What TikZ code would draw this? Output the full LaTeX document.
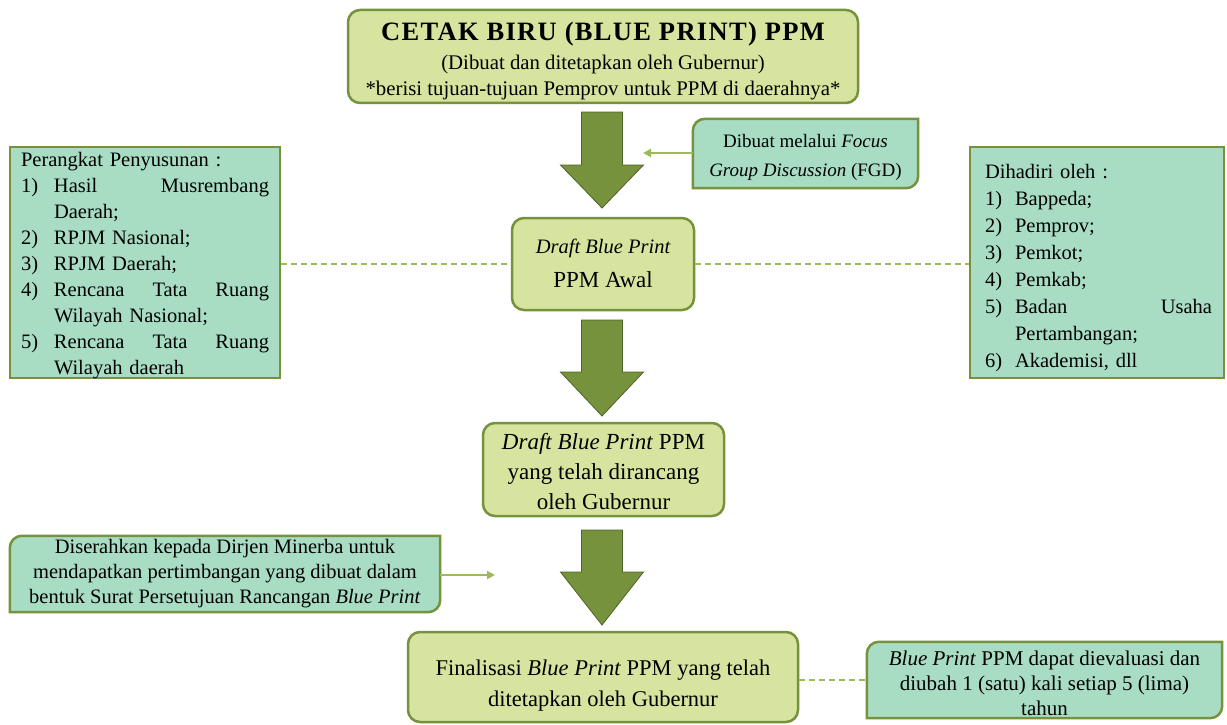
\documentclass[tikz,border=0pt]{standalone}
\usepackage{fontspec}
\setmainfont{Liberation Serif}
\usetikzlibrary{arrows.meta,calc}
\definecolor{olivebd}{RGB}{118,146,60}
\definecolor{olivedk}{RGB}{79,98,40}
\definecolor{olivelt}{RGB}{155,187,89}
\definecolor{yfill}{RGB}{215,228,160}
\definecolor{mintfill}{RGB}{168,221,196}
\newcommand{\fsz}[2]{\fontsize{#1}{#2}\selectfont}
\newcommand{\bigdown}[4]{%
  \filldraw[bigarr] (#1-20.5,#2) -- (#1+20.5,#2) -- (#1+20.5,#3) -- (#1+41.5,#3) -- (#1,#4) -- (#1-41.5,#3) -- (#1-20.5,#3) -- cycle;}
\begin{document}
\begin{tikzpicture}[x=1pt,y=-1pt,
  mainbox/.style={draw=olivebd, line width=2.5pt, fill=yfill, rounded corners=12pt, inner sep=0pt},
  mintsq/.style={draw=olivebd, line width=2.5pt, fill=mintfill, inner sep=0pt},
  diagbox/.style={draw=olivebd, line width=2.5pt, fill=mintfill},
  plainnode/.style={inner sep=0pt, align=center},
  listtext/.style={inner sep=0pt, align=left},
  bigarr/.style={fill=olivebd, draw=olivedk, line width=0.8pt},
  dashline/.style={draw=olivelt, line width=2.5pt, dash pattern=on 6pt off 4pt},
  thinarr/.style={draw=olivelt, line width=2pt, -{Triangle[length=8pt,width=8pt]}}
]
\useasboundingbox (0,0) rectangle (1227,725);
\fill[white] (0,0) rectangle (1227,725);

% main boxes (shapes)
\node[mainbox, minimum width=510, minimum height=93] (top) at (603,56.5) {};
\node[mainbox, minimum width=182, minimum height=92] (awal) at (603,264) {};
\node[mainbox, minimum width=241, minimum height=93] (rancang) at (603.5,469.5) {};
\node[mainbox, minimum width=390, minimum height=90] (final) at (603,677) {};

% main box texts
\node[plainnode, font=\fsz{20.8}{25.5}] (toptext) at ($(top)+(0,4.5)$)
  {{\fsz{26.5}{30}\bfseries\addfontfeatures{LetterSpace=5}CETAK BIRU (BLUE PRINT) PPM}\\[3.5pt]
   (Dibuat dan ditetapkan oleh Gubernur)\\
   *berisi tujuan-tujuan Pemprov untuk PPM di daerahnya*};
\node[plainnode, font=\fsz{23}{34}] (awaltext) at ($(awal)+(0,-1)$)
  {{\fsz{20.5}{34}\itshape Draft Blue Print}\\PPM Awal};
\node[plainnode, font=\fsz{23}{30}] (rancangtext) at ($(rancang)+(0,2.5)$)
  {\textit{Draft Blue Print} PPM\\yang telah dirancang\\oleh Gubernur};
\node[plainnode, font=\fsz{22.5}{31}] (finaltext) at ($(final)+(0,9)$)
  {Finalisasi \textit{Blue Print} PPM yang telah\\ditetapkan oleh Gubernur};

% big arrows
\bigdown{602}{112}{165}{208}
\bigdown{602}{320}{372}{416}
\bigdown{602}{530}{572}{625}

% left box
\node[mintsq, minimum width=270, minimum height=231] (perangkat) at (145,262.5) {};
\node[listtext, text width=248, font=\fsz{20.5}{25.9}] (perangkattext) at ($(perangkat)+(0,3)$)
  {Perangkat Penyusunan :\\
   \makebox[33pt][l]{1)}\makebox[215pt][l]{Hasil\hfill Musrembang}\\
   \hspace*{33pt}Daerah;\\
   \makebox[33pt][l]{2)}RPJM Nasional;\\
   \makebox[33pt][l]{3)}RPJM Daerah;\\
   \makebox[33pt][l]{4)}\makebox[215pt][l]{Rencana\hfill Tata\hfill Ruang}\\
   \hspace*{33pt}Wilayah Nasional;\\
   \makebox[33pt][l]{5)}\makebox[215pt][l]{Rencana\hfill Tata\hfill Ruang}\\
   \hspace*{33pt}Wilayah daerah};

% right box
\node[mintsq, minimum width=254, minimum height=231] (hadir) at (1097,262.5) {};
\node[listtext, text width=227, font=\fsz{20.5}{27}] (hadirtext) at ($(hadir)+(1.5,6)$)
  {Dihadiri oleh :\\
   \makebox[30pt][l]{1)}Bappeda;\\
   \makebox[30pt][l]{2)}Pemprov;\\
   \makebox[30pt][l]{3)}Pemkot;\\
   \makebox[30pt][l]{4)}Pemkab;\\
   \makebox[30pt][l]{5)}\makebox[197pt][l]{Badan\hfill Usaha}\\
   \hspace*{30pt}Pertambangan;\\
   \makebox[30pt][l]{6)}Akademisi, dll};

% diagonal-rounded boxes
\node[plainnode, minimum width=225, minimum height=69] (fgd) at (805.5,153.5) {};
\node[plainnode, minimum width=430, minimum height=76] (serah) at (225,574) {};
\node[plainnode, minimum width=355, minimum height=76] (eval) at (1044.5,680) {};
\foreach \n in {fgd,serah,eval}{
  \draw[diagbox] (\n.west) [rounded corners=12pt] -- (\n.north west) -- (\n.north)
     [sharp corners] -- (\n.north east) -- (\n.east)
     [rounded corners=12pt] -- (\n.south east) -- (\n.south)
     [sharp corners] -- (\n.south west) -- cycle;
}
\node[plainnode, font=\fsz{19}{29}] (fgdtext) at ($(fgd)+(0,4)$) {Dibuat melalui \textit{Focus}\\\textit{Group Discussion} (FGD)};
\node[plainnode, font=\fsz{20.5}{25}] (serahtext) at (serah)
  {Diserahkan kepada Dirjen Minerba untuk\\mendapatkan pertimbangan yang dibuat dalam\\bentuk Surat Persetujuan Rancangan \textit{Blue Print}};
\node[plainnode, font=\fsz{21}{25}] (evaltext) at ($(eval)+(0,3)$)
  {\textit{Blue Print} PPM dapat dievaluasi dan\\diubah 1 (satu) kali setiap 5 (lima)\\tahun};

% connectors
\coordinate (fgdend) at (643,153);
\draw[thinarr] (fgd.west |- fgdend) -- (fgdend);
\coordinate (serahend) at (495,575);
\draw[thinarr] (serah.east |- serahend) -- (serahend);
\draw[dashline] (perangkat.east |- awal.west) -- (awal.west);
\draw[dashline] (awal.east) -- (hadir.west |- awal.east);
\draw[dashline] (final.east |- eval.west) -- (eval.west);
\end{tikzpicture}
\end{document}
